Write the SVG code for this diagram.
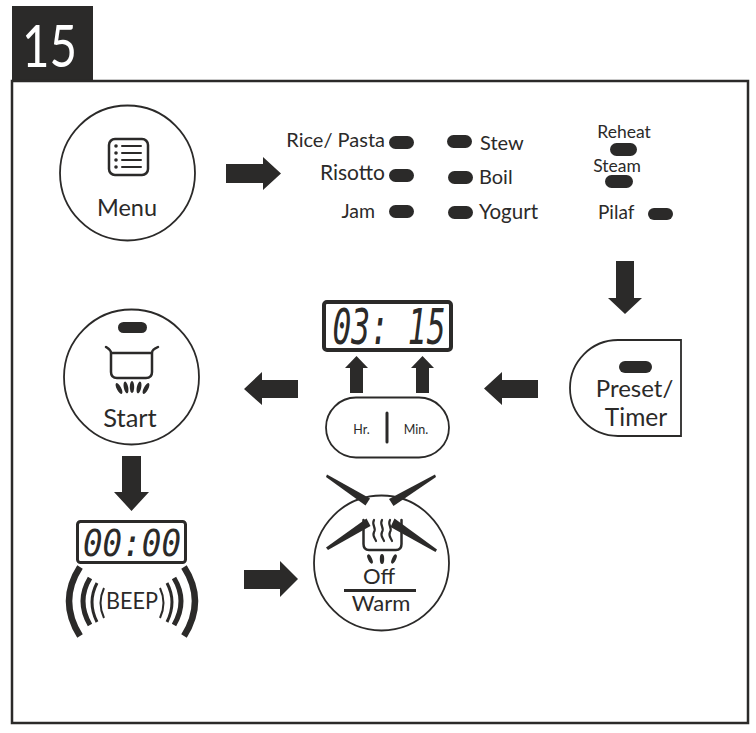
<svg xmlns="http://www.w3.org/2000/svg" width="756" height="733" viewBox="0 0 756 733">
<style>
text{font-family:"Lato","Open Sans","Liberation Sans",sans-serif;fill:#2b2a29}
.m{text-anchor:middle}.e{text-anchor:end}
.c{fill:#fff;stroke:#2b2a29;stroke-width:1.800}
.p{fill:#2b2a29}
.l{fill:none;stroke:#2b2a29;stroke-linecap:round;stroke-linejoin:round}
.d{font-family:"DejaVu Sans Mono","Liberation Mono",monospace;font-style:italic;font-weight:400;text-anchor:middle;fill:#2b2a29}
.t{font-size:20px}
</style>
<rect width="756" height="733" fill="#fff"/>
<g id="header"><rect x="12" y="6" width="81" height="75" fill="#2b2a29"/><text x="49.500" y="67" class="m" font-size="58" textLength="55" lengthAdjust="spacingAndGlyphs" style="fill:#fff">15</text></g>
<rect id="frame" x="12" y="81" width="736" height="642" fill="none" stroke="#2b2a29" stroke-width="2.5"/>
<g id="connectors" class="p">
<path id="a1" d="M226 164H263V157L281 173.500L263 190V183H226Z"/>
<path id="a2" d="M616 261H634V298H642L625 314L608 298H616Z"/>
<path id="a3" d="M538 380V398H502V405L484 388.500L502 372V380Z"/>
<path id="a4" d="M350 393V368H345L356.500 356L368 368H363V393Z"/>
<path id="a5" d="M416 393V368H411L422.500 356L434 368H429V393Z"/>
<path id="a6" d="M298 380V398H262V405L244 389L262 372V380Z"/>
<path id="a7" d="M122 456H141V492H149L131.500 511L114 492H122Z"/>
<path id="a8" d="M244 570H280V561L298 579L280 597V589H244Z"/>
</g>
<g id="menu">
<circle class="c" cx="127.500" cy="173" r="67.500"/>
<rect x="109" y="139" width="39" height="36" rx="6" fill="none" stroke="#2b2a29" stroke-width="2.500"/>
<g class="p"><circle cx="116" cy="146" r="1.800"/><circle cx="116" cy="153" r="1.800"/><circle cx="116" cy="160" r="1.800"/><circle cx="116" cy="167" r="1.800"/></g>
<path class="l" stroke-width="2" d="M122 146H141M122 153H141M122 160H141M122 167H141"/>
<text x="127" y="216" class="m" font-size="23.500">Menu</text>
</g>
<g id="modes">
<g class="p">
<rect x="389" y="136" width="25" height="13" rx="6.500"/><rect x="389" y="169" width="25" height="13" rx="6.500"/><rect x="389" y="205" width="25" height="13" rx="6.500"/>
<rect x="447" y="135" width="25" height="13" rx="6.500"/><rect x="448" y="171" width="25" height="13" rx="6.500"/><rect x="448" y="206" width="25" height="13" rx="6.500"/>
<rect x="610" y="143" width="27" height="13" rx="6.500"/><rect x="605" y="175" width="28" height="13" rx="6.500"/><rect x="648" y="208" width="25" height="12" rx="6"/>
</g>
<text x="385" y="147" class="e t">Rice/ Pasta</text>
<text x="385" y="180" class="e" font-size="21">Risotto</text>
<text x="375" y="218" class="e" font-size="19.500">Jam</text>
<text x="480" y="150" class="t">Stew</text>
<text x="479" y="184" class="t">Boil</text>
<text x="479" y="219" font-size="20.500">Yogurt</text>
<text x="624" y="138" class="m" font-size="17.500">Reheat</text>
<text x="617" y="172" class="m" font-size="17.500">Steam</text>
<text x="598" y="219" font-size="19">Pilaf</text>
</g>
<g id="preset">
<path class="c" d="M681 340V436H618A48 48 0 0 1 618 340Z"/>
<rect class="p" x="619" y="361" width="33" height="12" rx="6"/>
<text x="634.500" y="397" class="m" font-size="24">Preset/</text>
<text x="636" y="426" class="m" font-size="24.500">Timer</text>
</g>
<g id="display-0315">
<rect x="324" y="302" width="127" height="48" rx="3" fill="#fff" stroke="#2b2a29" stroke-width="4"/>
<text class="d" x="389" y="344" font-size="49" textLength="113" lengthAdjust="spacingAndGlyphs">03: 15</text>
</g>
<g id="hr-min">
<rect class="c" x="326" y="397.500" width="123" height="60" rx="30" stroke-width="1.500"/>
<path class="l" stroke-width="3" d="M387 413V442"/>
<text x="361.500" y="434" class="m" font-size="12.500">Hr.</text>
<text x="416" y="434" class="m" font-size="12.500">Min.</text>
</g>
<g id="start">
<circle class="c" cx="131.500" cy="377" r="67.500"/>
<rect class="p" x="118" y="322" width="29" height="11" rx="5.500"/>
<path class="l" stroke-width="2.500" d="M106 347C109 349 111 350 111 353V372Q111 378 117 378H146Q152 378 152 372V353C152 350 154 349 158 347M111 353H152"/>
<g class="p">
<ellipse cx="119" cy="388.500" rx="2.200" ry="6" transform="rotate(-28 119 388.500)"/>
<ellipse cx="126" cy="387.500" rx="2.200" ry="6" transform="rotate(-12 126 387.500)"/>
<ellipse cx="132" cy="387" rx="2.200" ry="6"/>
<ellipse cx="139" cy="387.500" rx="2.200" ry="6" transform="rotate(12 139 387.500)"/>
<ellipse cx="146" cy="388.500" rx="2.200" ry="6" transform="rotate(28 146 388.500)"/>
</g>
<text x="130" y="427" class="m" font-size="25.500">Start</text>
</g>
<g id="beep">
<rect x="77.500" y="521.500" width="108" height="41" rx="3" fill="#fff" stroke="#2b2a29" stroke-width="3"/>
<text class="d" x="132" y="556" font-size="38" textLength="98" lengthAdjust="spacingAndGlyphs">00:00</text>
<path class="l" style="stroke-linecap:butt" stroke-width="6.500" d="M80 567Q58 601 80 636M184 567Q206 601 184 636"/>
<path class="l" style="stroke-linecap:butt" stroke-width="5" d="M90 578Q76 601 90 625M174 578Q188 601 174 625"/>
<path class="l" style="stroke-linecap:butt" stroke-width="3" d="M97 583Q87 602 97 622M167 583Q177 602 167 622"/>
<path class="l" style="stroke-linecap:butt" stroke-width="2" d="M104 588Q97 603 104 618M160 588Q167 603 160 618"/>
<text x="132" y="609" class="m" font-size="23" textLength="52" lengthAdjust="spacingAndGlyphs">BEEP</text>
</g>
<g id="off-warm">
<circle class="c" cx="381.500" cy="563" r="67.500"/>
<path class="l" stroke-width="2.500" d="M363.500 520V544Q363.500 550 369 550H396Q401.500 550 401.500 544V520"/>
<path class="l" stroke-width="2.200" d="M374 520C371 525 377 528 374 532C372 536 375 538 376 541M382 520C379 525 385 528 382 532C380 536 383 538 384 541M390 520C387 525 393 528 390 532C388 536 391 538 392 541"/>
<g class="p">
<ellipse cx="370" cy="559" rx="2" ry="5" transform="rotate(-25 370 559)"/>
<ellipse cx="382" cy="559" rx="2.200" ry="5"/>
<ellipse cx="394" cy="559" rx="2" ry="5" transform="rotate(25 394 559)"/>
<path d="M327 474.500L370 498.500L365.500 505.500L326 477Z"/>
<path d="M435 474.500L389 499L393.500 506L436 477Z"/>
<path d="M326 547.500L366.500 518.500L370.500 526L328 550Z"/>
<path d="M437 549.500L394.500 518.500L390.500 527L435.500 552Z"/>
</g>
<text x="379" y="584" class="m" font-size="22">Off</text>
<rect class="p" x="344" y="589" width="72" height="3"/>
<text x="381" y="611" class="m" font-size="22">Warm</text>
</g>
</svg>
